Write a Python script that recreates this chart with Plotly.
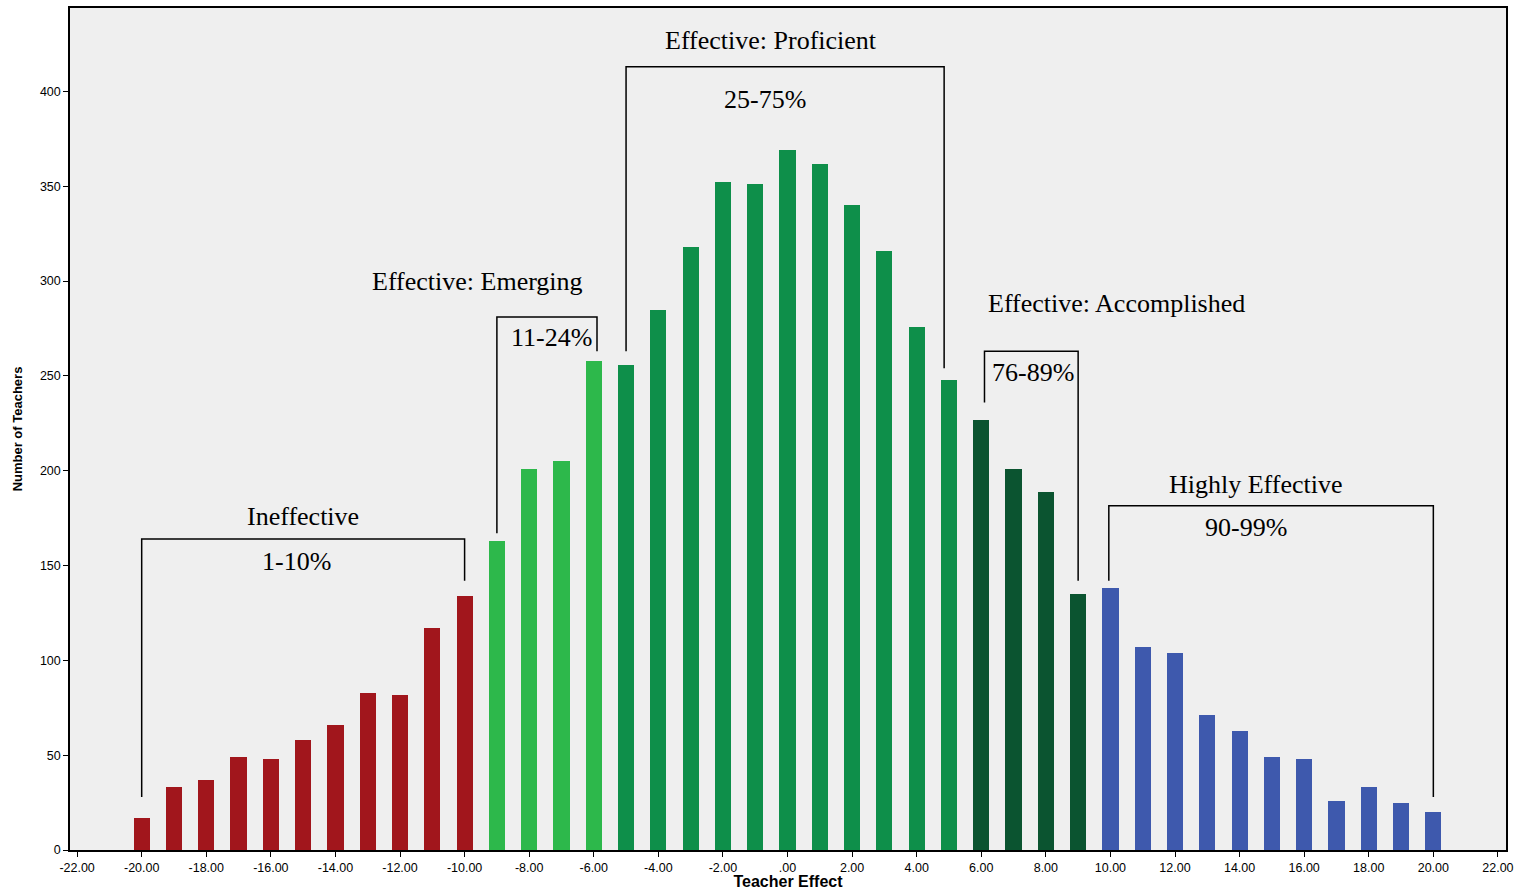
import plotly.graph_objects as go

# ---- data ----
teacher_effect = list(range(-20, 21))
num_teachers = [17, 33, 37, 49, 48, 58, 66, 83, 82, 117, 134,
                163, 201, 205, 258,
                256, 285, 318, 352, 351, 369, 362, 340, 316, 276, 248,
                227, 201, 189, 135,
                138, 107, 104, 71, 63, 49, 48, 26, 33, 25, 20]

group_names = ["Ineffective", "Effective: Emerging", "Effective: Proficient",
               "Effective: Accomplished", "Highly Effective"]
group_pct = ["1-10%", "11-24%", "25-75%", "76-89%", "90-99%"]
group_lo = [-20, -9, -5, 6, 10]
group_hi = [-10, -6, 5, 9, 20]
group_colors = ["#A1161C", "#2DB84B", "#0E8F4A", "#0B5430", "#3E59AD"]

x_ticks = list(range(-22, 23, 2))
x_tick_text = [(f"{v:.2f}" if v != 0 else ".00") for v in x_ticks]
y_ticks = [0, 50, 100, 150, 200, 250, 300, 350, 400]

fig = go.Figure()
for name, lo, hi, col in zip(group_names, group_lo, group_hi, group_colors):
    xs = [x for x in teacher_effect if lo <= x <= hi]
    ys = [num_teachers[teacher_effect.index(x)] for x in xs]
    fig.add_trace(go.Bar(x=xs, y=ys, name=name, width=0.5,
                         marker=dict(color=col, line=dict(width=0)),
                         showlegend=False))

# ---- bracket annotations (layout geometry) ----
# (left_x, left_bottom, top, right_x, right_bottom, title_x, title_y, pct_x, pct_y)
brackets = [
    (-20, 28, 164, -10, 142, -15.0, 176, -15.2, 152),
    (-9, 167, 281, -5.9, 263, -9.6, 300, -7.3, 270),
    (-5, 263, 413, 4.85, 254, -0.5, 427, -0.7, 396),
    (6.1, 236, 263, 9.0, 142, 10.2, 288, 7.6, 252),
    (9.95, 142, 181.5, 20.0, 28, 14.5, 193, 14.2, 170),
]
line_style = dict(color="black", width=1.5)
serif = dict(family="Liberation Serif, Times New Roman, serif", size=26, color="black")
for (lx, lb, top, rx, rb, tx, ty, px, py), name, pct in zip(brackets, group_names, group_pct):
    fig.add_shape(type="path",
                  path=f"M {lx} {lb} L {lx} {top} L {rx} {top} L {rx} {rb}",
                  xref="x", yref="y", line=line_style)
    fig.add_annotation(x=tx, y=ty, text=name, showarrow=False, font=serif,
                       xref="x", yref="y")
    fig.add_annotation(x=px, y=py, text=pct, showarrow=False, font=serif,
                       xref="x", yref="y")

axis_common = dict(showline=True, linecolor="black", linewidth=1.5, mirror=True,
                   ticks="outside", ticklen=5, tickcolor="black", showgrid=False,
                   zeroline=False, automargin=False)

tick_font = dict(family="Liberation Sans, Arial, sans-serif", size=12.5, color="black")

fig.update_layout(
    width=1520, height=890,
    margin=dict(l=70, r=14, t=8, b=40),
    paper_bgcolor="white", plot_bgcolor="#EFEFEF",
    bargap=0,
    xaxis=dict(range=[-22.22, 22.25], tickvals=x_ticks, ticktext=x_tick_text,
               tickfont=tick_font,
               title=dict(text="<b>Teacher Effect</b>", standoff=4,
                          font=dict(family="Liberation Sans, Arial, sans-serif", size=16, color="black")),
               **axis_common),
    yaxis=dict(range=[0, 444], tickvals=y_ticks, tickfont=tick_font,
               title=dict(text="<b>Number of Teachers</b>", standoff=14,
                          font=dict(family="Liberation Sans Narrow, Arial Narrow, sans-serif", size=13, color="black")),
               **axis_common),
)

fig.write_html("out.html", config={"displayModeBar": False},
               post_script="document.body.style.margin='0';document.body.style.overflow='hidden';")
